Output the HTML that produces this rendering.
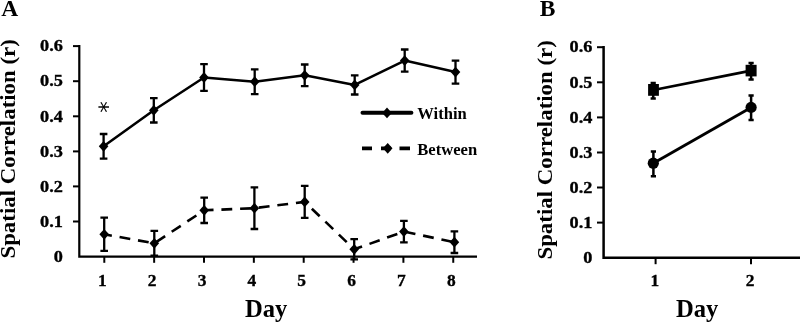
<!DOCTYPE html><html><head><meta charset="utf-8"><title>Spatial Correlation</title><style>html,body{margin:0;padding:0;background:#fff}svg{display:block}text{font-family:"Liberation Serif","DejaVu Serif",serif;font-weight:bold;fill:#000}.t{stroke:#000;stroke-width:.35px}</style></head><body>
<svg width="800" height="322" viewBox="0 0 800 322">
<rect width="800" height="322" fill="#fff"/>
<text x="1.2" y="15.7" font-size="23.5">A</text>
<path d="M79.3 45V256.6H477" stroke="#000" stroke-width="2.2" fill="none" stroke-linejoin="miter"/>
<text transform="translate(62.9 261.8) scale(1.08 1)" font-size="16.9" text-anchor="end" class="t">0</text>
<path d="M73 221.5H79.3" stroke="#000" stroke-width="2"/>
<text transform="translate(62.9 226.7) scale(1.08 1)" font-size="16.9" text-anchor="end" class="t">0.1</text>
<path d="M73 186.4H79.3" stroke="#000" stroke-width="2"/>
<text transform="translate(62.9 191.6) scale(1.08 1)" font-size="16.9" text-anchor="end" class="t">0.2</text>
<path d="M73 151.4H79.3" stroke="#000" stroke-width="2"/>
<text transform="translate(62.9 156.6) scale(1.08 1)" font-size="16.9" text-anchor="end" class="t">0.3</text>
<path d="M73 116.3H79.3" stroke="#000" stroke-width="2"/>
<text transform="translate(62.9 121.5) scale(1.08 1)" font-size="16.9" text-anchor="end" class="t">0.4</text>
<path d="M73 81.2H79.3" stroke="#000" stroke-width="2"/>
<text transform="translate(62.9 86.4) scale(1.08 1)" font-size="16.9" text-anchor="end" class="t">0.5</text>
<path d="M73 46.1H79.3" stroke="#000" stroke-width="2"/>
<text transform="translate(62.9 51.3) scale(1.08 1)" font-size="16.9" text-anchor="end" class="t">0.6</text>
<path d="M104.3 256.6V262.8" stroke="#000" stroke-width="2"/>
<text x="102.3" y="286" font-size="17.4" text-anchor="middle" class="t">1</text>
<path d="M154.15 256.6V262.8" stroke="#000" stroke-width="2"/>
<text x="152.15" y="286" font-size="17.4" text-anchor="middle" class="t">2</text>
<path d="M204.0 256.6V262.8" stroke="#000" stroke-width="2"/>
<text x="202.0" y="286" font-size="17.4" text-anchor="middle" class="t">3</text>
<path d="M253.85000000000002 256.6V262.8" stroke="#000" stroke-width="2"/>
<text x="251.85000000000002" y="286" font-size="17.4" text-anchor="middle" class="t">4</text>
<path d="M303.7 256.6V262.8" stroke="#000" stroke-width="2"/>
<text x="301.7" y="286" font-size="17.4" text-anchor="middle" class="t">5</text>
<path d="M353.55 256.6V262.8" stroke="#000" stroke-width="2"/>
<text x="351.55" y="286" font-size="17.4" text-anchor="middle" class="t">6</text>
<path d="M403.40000000000003 256.6V262.8" stroke="#000" stroke-width="2"/>
<text x="401.40000000000003" y="286" font-size="17.4" text-anchor="middle" class="t">7</text>
<path d="M453.25 256.6V262.8" stroke="#000" stroke-width="2"/>
<text x="451.25" y="286" font-size="17.4" text-anchor="middle" class="t">8</text>
<text x="245" y="316.6" font-size="24.6">Day</text>
<text transform="translate(15 258.6) rotate(-90)" font-size="21" textLength="219.5" lengthAdjust="spacingAndGlyphs">Spatial Correlation (r)</text>
<polyline points="103.6,146.3 153.8,110.3 204,77.5 254.7,81.7 304.7,75.3 354.7,84.9 404.7,60.6 455.5,72.1" fill="none" stroke="#000" stroke-width="2.55" stroke-linejoin="round"/>
<path d="M103.6 134.0V158.60000000000002M99.8 134.0H107.39999999999999M99.8 158.60000000000002H107.39999999999999" stroke="#000" stroke-width="2.3" fill="none"/>
<path d="M103.6 140.9L108.39999999999999 146.3L103.6 151.70000000000002L98.8 146.3Z" fill="#000"/>
<path d="M153.8 98.1V122.5M150.0 98.1H157.60000000000002M150.0 122.5H157.60000000000002" stroke="#000" stroke-width="2.3" fill="none"/>
<path d="M153.8 104.89999999999999L158.60000000000002 110.3L153.8 115.7L149.0 110.3Z" fill="#000"/>
<path d="M204 64.1V90.9M200.2 64.1H207.8M200.2 90.9H207.8" stroke="#000" stroke-width="2.3" fill="none"/>
<path d="M204 72.1L208.8 77.5L204 82.9L199.2 77.5Z" fill="#000"/>
<path d="M254.7 69.3V94.10000000000001M250.89999999999998 69.3H258.5M250.89999999999998 94.10000000000001H258.5" stroke="#000" stroke-width="2.3" fill="none"/>
<path d="M254.7 76.3L259.5 81.7L254.7 87.10000000000001L249.89999999999998 81.7Z" fill="#000"/>
<path d="M304.7 64.5V86.1M300.9 64.5H308.5M300.9 86.1H308.5" stroke="#000" stroke-width="2.3" fill="none"/>
<path d="M304.7 69.89999999999999L309.5 75.3L304.7 80.7L299.9 75.3Z" fill="#000"/>
<path d="M354.7 75.30000000000001V94.5M350.9 75.30000000000001H358.5M350.9 94.5H358.5" stroke="#000" stroke-width="2.3" fill="none"/>
<path d="M354.7 79.5L359.5 84.9L354.7 90.30000000000001L349.9 84.9Z" fill="#000"/>
<path d="M404.7 49.5V71.7M400.9 49.5H408.5M400.9 71.7H408.5" stroke="#000" stroke-width="2.3" fill="none"/>
<path d="M404.7 55.2L409.5 60.6L404.7 66.0L399.9 60.6Z" fill="#000"/>
<path d="M455.5 60.599999999999994V83.6M451.7 60.599999999999994H459.3M451.7 83.6H459.3" stroke="#000" stroke-width="2.3" fill="none"/>
<path d="M455.5 66.69999999999999L460.3 72.1L455.5 77.5L450.7 72.1Z" fill="#000"/>
<polyline points="104.2,234.3 154.3,243.3 204.2,210.3 254.4,208.2 304.7,201.9 354.2,249.3 403.9,231.6 454.4,242.2" fill="none" stroke="#000" stroke-width="2.6" stroke-dasharray="10.85 7.87" stroke-dashoffset="3.1" stroke-linejoin="round"/>
<path d="M104.2 217.70000000000002V250.9M100.4 217.70000000000002H108.0M100.4 250.9H108.0" stroke="#000" stroke-width="2.3" fill="none"/>
<path d="M104.2 228.9L109.0 234.3L104.2 239.70000000000002L99.4 234.3Z" fill="#000"/>
<path d="M154.3 230.9V255.70000000000002M150.5 230.9H158.10000000000002M150.5 255.70000000000002H158.10000000000002" stroke="#000" stroke-width="2.3" fill="none"/>
<path d="M154.3 237.9L159.10000000000002 243.3L154.3 248.70000000000002L149.5 243.3Z" fill="#000"/>
<path d="M204.2 197.60000000000002V223.0M200.39999999999998 197.60000000000002H208.0M200.39999999999998 223.0H208.0" stroke="#000" stroke-width="2.3" fill="none"/>
<path d="M204.2 204.9L209.0 210.3L204.2 215.70000000000002L199.39999999999998 210.3Z" fill="#000"/>
<path d="M254.4 187.39999999999998V229.0M250.6 187.39999999999998H258.2M250.6 229.0H258.2" stroke="#000" stroke-width="2.3" fill="none"/>
<path d="M254.4 202.79999999999998L259.2 208.2L254.4 213.6L249.6 208.2Z" fill="#000"/>
<path d="M304.7 185.9V217.9M300.9 185.9H308.5M300.9 217.9H308.5" stroke="#000" stroke-width="2.3" fill="none"/>
<path d="M304.7 196.5L309.5 201.9L304.7 207.3L299.9 201.9Z" fill="#000"/>
<path d="M354.2 239.20000000000002V259.40000000000003M350.4 239.20000000000002H358.0M350.4 259.40000000000003H358.0" stroke="#000" stroke-width="2.3" fill="none"/>
<path d="M354.2 243.9L359.0 249.3L354.2 254.70000000000002L349.4 249.3Z" fill="#000"/>
<path d="M403.9 220.79999999999998V242.4M400.09999999999997 220.79999999999998H407.7M400.09999999999997 242.4H407.7" stroke="#000" stroke-width="2.3" fill="none"/>
<path d="M403.9 226.2L408.7 231.6L403.9 237.0L399.09999999999997 231.6Z" fill="#000"/>
<path d="M454.4 231.39999999999998V253.0M450.59999999999997 231.39999999999998H458.2M450.59999999999997 253.0H458.2" stroke="#000" stroke-width="2.3" fill="none"/>
<path d="M454.4 236.79999999999998L459.2 242.2L454.4 247.6L449.59999999999997 242.2Z" fill="#000"/>
<text transform="translate(103.7 107) rotate(90)" x="0" y="11.6" font-size="23" text-anchor="middle" style="font-family:'DejaVu Sans',sans-serif;font-weight:400">*</text>
<path d="M362.5 112.8H411.4" stroke="#000" stroke-width="4" stroke-linecap="round"/>
<path d="M387 107.5L391.8 112.9L387 118.30000000000001L382.2 112.9Z" fill="#000"/>
<text x="417.3" y="119" font-size="16.6">Within</text>
<path d="M362 148.4H372M381 148.4H391M399.5 148.4H410" stroke="#000" stroke-width="3.6"/>
<path d="M387.7 142.9L392.5 148.3L387.7 153.70000000000002L382.9 148.3Z" fill="#000"/>
<text x="417.3" y="154.5" font-size="16.6">Between</text>
<text x="539.8" y="15.7" font-size="23.5">B</text>
<path d="M603.6 46V257.7H800" stroke="#000" stroke-width="2.5" fill="none"/>
<text transform="translate(592.4 262.9) scale(1.08 1)" font-size="16.9" text-anchor="end" class="t">0</text>
<path d="M597 222.6H603.6" stroke="#000" stroke-width="2"/>
<text transform="translate(592.4 227.8) scale(1.08 1)" font-size="16.9" text-anchor="end" class="t">0.1</text>
<path d="M597 187.5H603.6" stroke="#000" stroke-width="2"/>
<text transform="translate(592.4 192.7) scale(1.08 1)" font-size="16.9" text-anchor="end" class="t">0.2</text>
<path d="M597 152.5H603.6" stroke="#000" stroke-width="2"/>
<text transform="translate(592.4 157.7) scale(1.08 1)" font-size="16.9" text-anchor="end" class="t">0.3</text>
<path d="M597 117.4H603.6" stroke="#000" stroke-width="2"/>
<text transform="translate(592.4 122.6) scale(1.08 1)" font-size="16.9" text-anchor="end" class="t">0.4</text>
<path d="M597 82.3H603.6" stroke="#000" stroke-width="2"/>
<text transform="translate(592.4 87.5) scale(1.08 1)" font-size="16.9" text-anchor="end" class="t">0.5</text>
<path d="M597 47.2H603.6" stroke="#000" stroke-width="2"/>
<text transform="translate(592.4 52.4) scale(1.08 1)" font-size="16.9" text-anchor="end" class="t">0.6</text>
<path d="M655.6 257.7V264.2" stroke="#000" stroke-width="2"/>
<text x="654.8000000000001" y="286" font-size="17.4" text-anchor="middle" class="t">1</text>
<path d="M751 257.7V264.2" stroke="#000" stroke-width="2"/>
<text x="750.2" y="286" font-size="17.4" text-anchor="middle" class="t">2</text>
<text x="676" y="316.6" font-size="24.6">Day</text>
<text transform="translate(552 259.6) rotate(-90)" font-size="21" textLength="219.5" lengthAdjust="spacingAndGlyphs">Spatial Correlation (r)</text>
<path d="M653.6 90L751.2 70.7" stroke="#000" stroke-width="2.8"/>
<path d="M653.2 82.9V98.4M650.6 82.9H655.8000000000001M650.6 98.4H655.8000000000001" stroke="#000" stroke-width="2.5" fill="none"/>
<path d="M751.1 62.9V79.4M748.5 62.9H753.7M748.5 79.4H753.7" stroke="#000" stroke-width="2.5" fill="none"/>
<rect x="648.1" y="84" width="10.8" height="11.8"/>
<rect x="745.6" y="64.8" width="11" height="11.6"/>
<path d="M653.3 163.2L751.1 107.4" stroke="#000" stroke-width="2.9"/>
<path d="M653.4 151.5V176.2M650.8 151.5H656.0M650.8 176.2H656.0" stroke="#000" stroke-width="2.5" fill="none"/>
<path d="M751.1 95.4V120M748.5 95.4H753.7M748.5 120H753.7" stroke="#000" stroke-width="2.5" fill="none"/>
<circle cx="653.3" cy="163.2" r="5.6"/><circle cx="751.1" cy="107.4" r="5.6"/>
</svg></body></html>
